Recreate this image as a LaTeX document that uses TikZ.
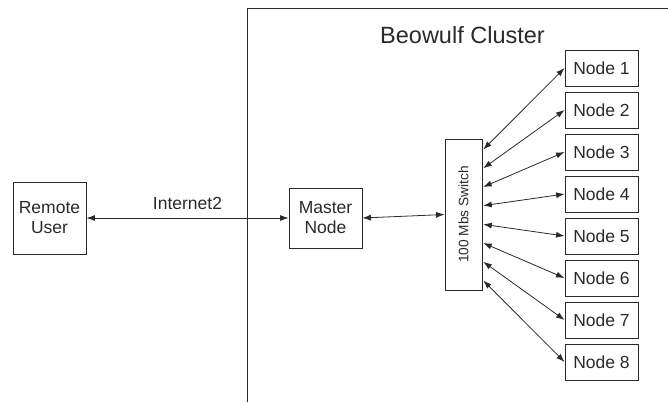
\documentclass[tikz,border=0pt]{standalone}
\usepackage{fontspec}
\setmainfont{Liberation Sans}
\usetikzlibrary{arrows.meta,calc}
\definecolor{ink}{HTML}{2A2A2A}
\begin{document}
\begin{tikzpicture}[x=1pt,y=-1pt,
  box/.style={draw=ink,line width=0.9pt,text=ink,inner sep=0pt,align=center,
    font=\fontsize{17.5}{20}\selectfont},
  link/.style={draw=ink,line width=0.8pt,{Latex[length=8.5pt,width=6pt]}-{Latex[length=8.5pt,width=6pt]}}]
\useasboundingbox (0,0) rectangle (668,402);

% cluster boundary
\draw[ink,line width=1pt] (247,402) -- (247,8) -- (668,8);
\node[text=ink,font=\fontsize{23.5}{26}\selectfont] (title) at (462.5,35) {Beowulf Cluster};

% hosts
\node[box,minimum width=73pt,minimum height=72pt] (remote) at (49.5,218) {Remote\\User};
\node[box,minimum width=73pt,minimum height=60pt] (master) at (325.5,218) {Master\\Node};
\node[box,minimum width=37pt,minimum height=151pt] (switch) at (463.5,214.5) {};
\node[text=ink,rotate=90,font=\fontsize{13.7}{16}\selectfont] (swlabel) at (463.5,214.5) {100 Mbs Switch};

% compute nodes
\foreach \k in {1,...,8} {
  \node[box,minimum width=73pt,minimum height=36pt] (n\k) at (601.5,{68+42*(\k-1)}) {Node \k};
  \coordinate (p\k) at ($(switch.north east)+(0.8,{11+18.7*(\k-1)})$);
  \draw[link] (p\k) -- (n\k.west);
}

% links
\draw[link] (remote.east) -- node[above=5pt,text=ink,font=\fontsize{17.5}{20}\selectfont] (inet) {Internet2} (master.west);
\draw[link] (master.east) -- (switch.west);
\end{tikzpicture}
\end{document}
